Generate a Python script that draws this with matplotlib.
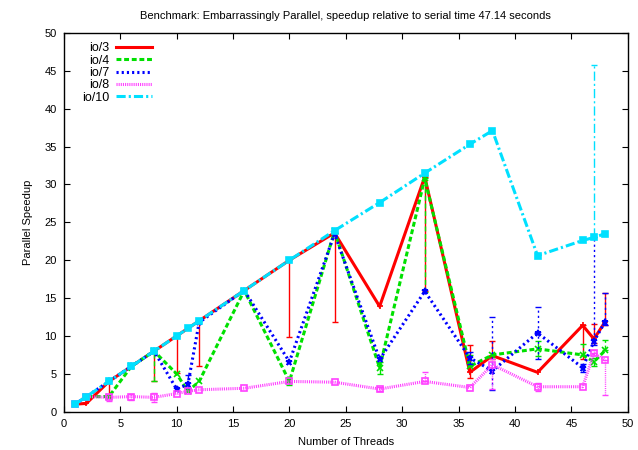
import numpy as np
import matplotlib
matplotlib.use("Agg")
import matplotlib.pyplot as plt
from matplotlib.lines import Line2D

plt.rcParams['font.family'] = ['Liberation Sans', 'DejaVu Sans']
plt.rcParams['font.size'] = 8

# thread counts
threads = [1, 2, 4, 6, 8, 10, 11, 12, 16, 20, 24, 28, 32, 36, 38, 42, 46, 47, 48]

# mean speedup per run
io3 = [1.0, 1.1, 4.0, 6.0, 8.0, 10.0, 11.0, 12.0, 16.0, 20.0, 23.6, 13.9, 31.0, 5.2, 7.4, 5.2, 11.4, 9.6, 11.9]
io4 = [1.0, 2.0, 2.0, 6.0, 8.0, 5.0, 2.7, 4.0, 16.0, 4.0, 23.8, 5.8, 30.8, 6.0, 7.5, 8.3, 7.5, 6.6, 8.1]
io7 = [1.0, 2.0, 4.0, 6.0, 8.0, 3.0, 3.6, 11.8, 16.0, 6.6, 23.5, 6.9, 15.9, 7.1, 5.4, 10.4, 5.8, 9.3, 11.9]
io8 = [1.0, 2.0, 1.9, 2.0, 1.9, 2.4, 2.7, 2.9, 3.1, 4.0, 3.9, 3.0, 4.0, 3.2, 6.2, 3.3, 3.3, 7.7, 6.8]
io10 = [1.0, 2.0, 4.0, 6.0, 8.0, 10.0, 11.0, 12.0, 16.0, 20.0, 23.9, 27.6, 31.5, 35.3, 37.1, 20.6, 22.6, 23.0, 23.5]

# error extents (down, up) per point
io3_dn = [0, 0, 2.0, 0, 4.0, 4.9, 0, 6.0, 0, 10.1, 11.7, 0, 15.0, 0.8, 0.5, 0, 4.5, 0.5, 0.5]
io3_up = [0, 0, 0, 0, 0, 0, 0, 0, 0, 0, 0, 0, 0, 3.6, 2.0, 0, 0, 2.0, 3.8]
io4_dn = [0, 0, 0, 0, 4.0, 0, 0, 0, 0, 0.5, 0, 0.8, 15.0, 0, 0, 1.0, 0, 0.5, 0]
io4_up = [0, 0, 0, 0, 0, 0, 0, 0, 0, 0.5, 0, 0.8, 0, 1.5, 0, 1.0, 1.5, 0.5, 1.4]
io7_dn = [0, 0, 0, 0, 0, 0, 0.5, 0, 0, 0, 0, 0, 0, 0.8, 2.5, 3.5, 0.5, 0.5, 0.5]
io7_up = [0, 0, 0, 0, 0, 0, 1.2, 0, 0, 0, 0, 0, 0, 0.8, 7.1, 3.4, 0.5, 13.7, 3.8]
io8_dn = [0, 0, 0.5, 0.4, 0.6, 0, 0, 0, 0, 0, 0, 0.3, 0, 0, 3.2, 0.5, 0, 0, 4.6]
io8_up = [0, 0, 0.5, 0.4, 0.6, 0, 0, 0, 0, 0, 0, 0.3, 1.3, 0, 0.8, 0.5, 0, 0.5, 0]
io10_dn = [0] * 19
io10_up = [0] * 17 + [22.7, 0]

series = [
    ("io/3", io3, io3_dn, io3_up, "#ff0000", "-", "+", dict(mfc="none")),
    ("io/4", io4, io4_dn, io4_up, "#00e000", (0, (1.6, 0.9)), "x", dict(mfc="none")),
    ("io/7", io7, io7_dn, io7_up, "#0000ff", (0, (0.7, 1.0)), "*", dict()),
    ("io/8", io8, io8_dn, io8_up, "#ff40ff", (0, (0.35, 0.35)), "s", dict(mfc="none")),
    ("io/10", io10, io10_dn, io10_up, "#00e0ff", (0, (3.0, 1.0, 0.7, 1.0)), "s", dict()),
]

fig = plt.figure(figsize=(6.38, 4.5), dpi=100)
ax = fig.add_axes([0.100, 0.085, 0.884, 0.842])

x = np.array(threads, dtype=float)
handles = []
for name, y, dn, up, col, ls, mk, mkw in series:
    y = np.array(y)
    dn = np.array(dn)
    up = np.array(up)
    ax.plot(x, y, color=col, lw=2.2, linestyle=ls, marker=mk, ms=4.5,
            mec=col, mew=1.2, **mkw)
    m = (dn > 0) | (up > 0)
    if m.any():
        eb = ax.errorbar(x[m], y[m], yerr=[dn[m], up[m]], fmt="none",
                         ecolor=col, elinewidth=1.0, capsize=2.5, capthick=1.0)
        if ls != "-":
            off, seq = ls
            eb[2][0].set_linestyle((0, tuple(s * 2.2 for s in seq)))
    handles.append(Line2D([], [], color=col, lw=2.2, linestyle=ls))

ax.set_xlim(0, 50)
ax.set_ylim(0, 50)
ax.set_xticks(np.arange(0, 51, 5))
ax.set_yticks(np.arange(0, 51, 5))
ax.tick_params(direction="in", length=4.5, width=0.8, top=True, right=True,
               labelsize=8, pad=5)
for s in ax.spines.values():
    s.set_linewidth(1.0)

ax.set_xlabel("Number of Threads", fontsize=8, labelpad=6)
ax.set_ylabel("Parallel Speedup", fontsize=8, labelpad=8)
ax.set_title("Benchmark: Embarrassingly Parallel, speedup relative to serial time 47.14 seconds",
             fontsize=8, pad=10)

leg = ax.legend(handles, [s[0] for s in series], loc="upper left",
                bbox_to_anchor=(0.015, 1.0), frameon=False, markerfirst=False,
                handlelength=2.9, handletextpad=0.55, labelspacing=0.03,
                fontsize=9, borderaxespad=0.35)

fig.savefig("out.png", dpi=100)
